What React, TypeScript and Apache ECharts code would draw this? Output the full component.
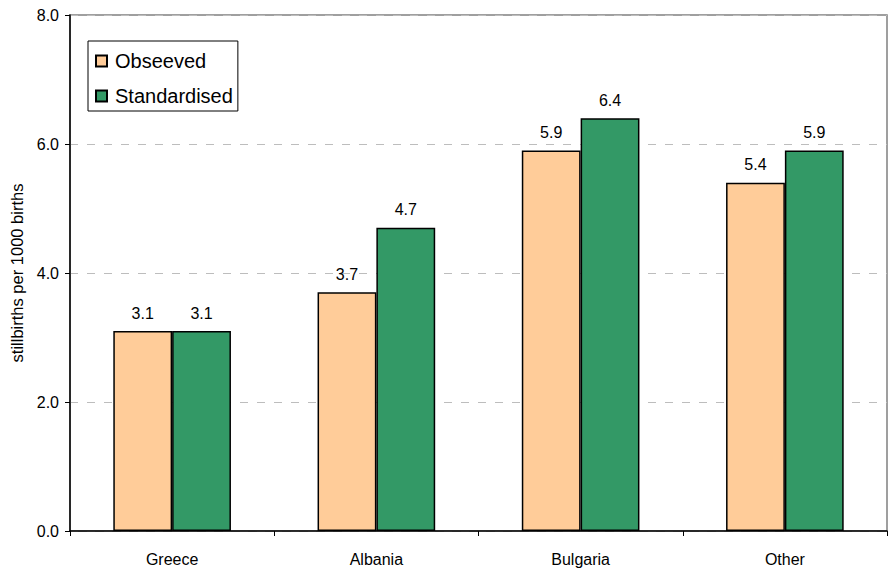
import React, { useEffect, useRef } from "react";
import * as echarts from "echarts";

const categories = ["Greece", "Albania", "Bulgaria", "Other"];
const observed = [3.1, 3.7, 5.9, 5.4];
const standardised = [3.1, 4.7, 6.4, 5.9];
const seriesNames = ["Obseeved", "Standardised"];
const yAxisTitle = "stillbirths per 1000 births";

const FONT = "'Liberation Sans', Arial, Helvetica, sans-serif";

export default function App() {
  const ref = useRef<HTMLDivElement>(null);

  useEffect(() => {
    if (!ref.current) return;
    const chart = echarts.init(ref.current, null, { renderer: "svg" });

    const barStyle = (color: string) => ({
      color,
      borderColor: "#000000",
      borderWidth: 1.5,
    });

    const label = {
      show: true,
      position: "top" as const,
      distance: 10,
      fontFamily: FONT,
      fontSize: 16,
      color: "#000000",
      formatter: (p: any) => Number(p.value).toFixed(1),
    };

    chart.setOption({
      animation: false,
      backgroundColor: "#ffffff",
      textStyle: { fontFamily: FONT },
      grid: {
        left: 68,
        right: 1,
        top: 15,
        bottom: 38,
        show: true,
        borderColor: "#808080",
        borderWidth: 1.5,
        backgroundColor: "transparent",
      },
      legend: {
        orient: "vertical",
        left: 88,
        top: 41,
        padding: [10, 5, 5, 7],
        itemGap: 15,
        itemWidth: 11,
        itemHeight: 11,
        icon: "rect",
        borderColor: "#000000",
        borderWidth: 1,
        backgroundColor: "#ffffff",
        textStyle: {
          fontFamily: FONT,
          fontSize: 20,
          lineHeight: 20,
          color: "#000000",
          padding: [0, 0, 0, 3],
        },
        data: seriesNames,
      },
      xAxis: {
        type: "category",
        data: categories,
        boundaryGap: true,
        axisLine: { lineStyle: { color: "#000000", width: 1.5 } },
        axisTick: { show: true, length: 5, lineStyle: { color: "#000000" } },
        axisLabel: {
          fontFamily: FONT,
          fontSize: 16,
          color: "#000000",
          margin: 20,
        },
      },
      yAxis: {
        type: "value",
        min: 0,
        max: 8,
        interval: 2,
        name: yAxisTitle,
        nameLocation: "middle",
        nameRotate: 90,
        nameGap: 45,
        nameTextStyle: { fontFamily: FONT, fontSize: 16.5, color: "#000000" },
        axisLine: { show: true, lineStyle: { color: "#000000", width: 1.5 } },
        axisTick: { show: true, length: 5, lineStyle: { color: "#000000" } },
        axisLabel: {
          fontFamily: FONT,
          fontSize: 16,
          color: "#000000",
          margin: 11,
          formatter: (v: number) => v.toFixed(1),
        },
        splitLine: {
          show: true,
          lineStyle: { color: "#bdbdbd", type: [8, 9], width: 1.2 },
        },
      },
      series: [
        {
          name: seriesNames[0],
          type: "bar",
          data: observed,
          barWidth: "28.8%",
          barGap: "0%",
          itemStyle: barStyle("#FFCC99"),
          label,
        },
        {
          name: seriesNames[1],
          type: "bar",
          data: standardised,
          barWidth: "28.8%",
          barGap: "0%",
          itemStyle: barStyle("#339966"),
          label,
        },
      ],
    });

    return () => chart.dispose();
  }, []);

  return (
    <div
      ref={ref}
      style={{ position: "fixed", left: 0, top: 0, width: 888, height: 569 }}
    />
  );
}
